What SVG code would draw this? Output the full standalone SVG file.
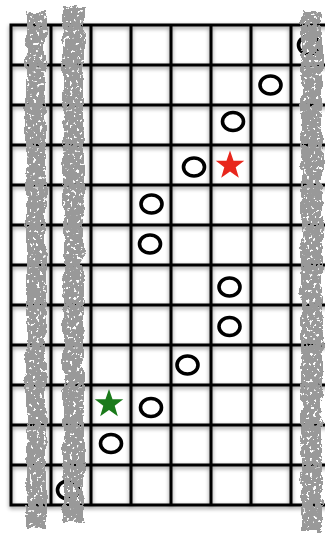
<svg xmlns="http://www.w3.org/2000/svg" width="325" height="534" viewBox="0 0 325 534">
<defs>
<filter id="shadow" x="-10%" y="-10%" width="120%" height="120%">
<feGaussianBlur in="SourceAlpha" stdDeviation="2"/>
<feOffset dx="0" dy="1.5" result="b"/>
<feComponentTransfer in="b" result="s"><feFuncA type="linear" slope="0.45"/></feComponentTransfer>
<feMerge><feMergeNode in="s"/><feMergeNode in="SourceGraphic"/></feMerge>
</filter>
<filter id="rough" x="-50%" y="-5%" width="200%" height="110%">
<feTurbulence type="fractalNoise" baseFrequency="0.1 0.07" numOctaves="3" seed="4" result="n"/>
<feDisplacementMap in="SourceGraphic" in2="n" scale="8" xChannelSelector="R" yChannelSelector="G" result="d"/>
<feTurbulence type="fractalNoise" baseFrequency="0.3" numOctaves="2" seed="9" result="h"/>
<feColorMatrix in="h" type="matrix" values="0 0 0 0 0  0 0 0 0 0  0 0 0 0 0  -22 0 0 0 15" result="m"/>
<feComposite in="d" in2="m" operator="in"/>
</filter>
<polygon id="star" points="0,-15 3.53,-4.85 14.27,-4.64 5.71,1.85 8.82,12.14 0,6 -8.82,12.14 -5.71,1.85 -14.27,-4.64 -3.53,-4.85"/>
</defs>
<style>
.g{stroke:#000;stroke-width:3;fill:none;stroke-linecap:square}
.o{fill:none;stroke:#000;stroke-width:3.6}
.bar{fill:#999}
</style>
<rect width="325" height="534" fill="#fff"/>
<g id="grid" filter="url(#shadow)">
<path class="g" d="M11,25H331M11,65H331M11,105H331M11,145H331M11,185H331M11,225H331M11,265H331M11,305H331M11,345H331M11,385H331M11,425H331M11,465H331M11,505H331M11,25V505M51,25V505M91,25V505M131,25V505M171,25V505M211,25V505M251,25V505M291,25V505"/>
</g>
<g id="circles">
<ellipse class="o" cx="309" cy="45" rx="10.5" ry="9"/>
<ellipse class="o" cx="270.5" cy="85" rx="10.5" ry="9"/>
<ellipse class="o" cx="233" cy="121.5" rx="10.5" ry="9"/>
<ellipse class="o" cx="194" cy="167" rx="10.5" ry="9"/>
<ellipse class="o" cx="151.5" cy="204" rx="10.5" ry="9"/>
<ellipse class="o" cx="150" cy="244" rx="10.5" ry="9"/>
<ellipse class="o" cx="229.5" cy="287" rx="10.5" ry="9"/>
<ellipse class="o" cx="229.5" cy="326.5" rx="10.5" ry="9"/>
<ellipse class="o" cx="187.5" cy="365" rx="10.5" ry="9"/>
<ellipse class="o" cx="151" cy="407.5" rx="10.5" ry="9"/>
<ellipse class="o" cx="111" cy="443.5" rx="10.5" ry="9"/>
<ellipse class="o" cx="68" cy="490" rx="10.5" ry="9"/>
</g>
<g id="stars">
<use href="#star" x="230" y="165.5" fill="#e8261c"/>
<use href="#star" x="109" y="404" fill="#1a7a1a"/>
</g>
<g id="bars" filter="url(#rough)">
<rect class="bar" x="26" y="12" width="20" height="516"/>
<rect class="bar" x="63" y="6" width="21" height="517"/>
<rect class="bar" x="301" y="11" width="21" height="520"/>
</g>
</svg>
